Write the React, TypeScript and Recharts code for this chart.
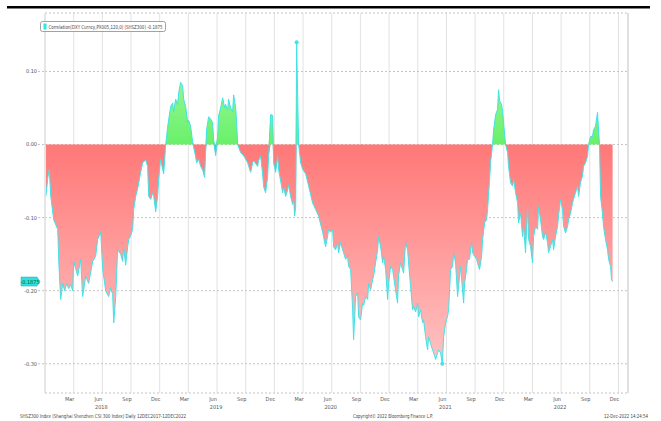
import React from "react";
import {
  ComposedChart,
  Area,
  Line,
  XAxis,
  YAxis,
  CartesianGrid,
  ReferenceDot,
  ReferenceLine,
} from "recharts";

const SERIES_NAME = "Correlation(DXY Curncy,PX005,120,0) (SHSZ300)";
const FOOT_LEFT = "SHSZ300 Index (Shanghai Shenzhen CSI 300 Index)  Daily 12DEC2017-12DEC2022";
const FOOT_MID = "Copyright\u00a9 2022 Bloomberg Finance L.P.";
const FOOT_RIGHT = "12-Dec-2022 14:24:54";

const MONTH_NAMES = ["Jan", "Feb", "Mar", "Apr", "May", "Jun", "Jul", "Aug", "Sep", "Oct", "Nov", "Dec"];

// x axis unit: months elapsed since 1 Dec 2017
const X_DOMAIN = [0, 61];
const X_TICKS = [3, 6, 9, 12, 15, 18, 21, 24, 27, 30, 33, 36, 39, 42, 45, 48, 51, 54, 57, 60];
const Y_DOMAIN = [-0.34, 0.18];
const Y_TICKS = [0.1, 0, -0.1, -0.2, -0.3];

const MONTHS_ELAPSED = [
  0.1, 0.3, 0.45, 0.6, 0.91, 1.33, 1.44, 1.64, 1.85, 2.06,
  2.27, 2.48, 2.69, 2.9, 3.0, 3.21, 3.42, 3.73, 3.94, 4.26,
  4.57, 4.78, 4.99, 5.3, 5.51, 5.83, 6.04, 6.35, 6.66, 6.87,
  7.08, 7.19, 7.4, 7.6, 7.92, 8.13, 8.23, 8.44, 8.65, 8.76,
  8.96, 9.17, 9.28, 9.49, 9.7, 10.01, 10.22, 10.53, 10.74, 10.85,
  11.06, 11.27, 11.37, 11.58, 11.79, 11.89, 12.1, 12.31, 12.42, 12.63,
  12.84, 13.15, 13.36, 13.46, 13.67, 13.88, 13.99, 14.19, 14.4, 14.51,
  14.72, 14.93, 15.03, 15.24, 15.45, 15.66, 15.87, 16.08, 16.29, 16.5,
  16.7, 16.81, 16.91, 17.12, 17.33, 17.54, 17.65, 17.85, 18.06, 18.17,
  18.38, 18.59, 18.8, 18.9, 19.11, 19.21, 19.42, 19.63, 19.74, 19.95,
  20.05, 20.16, 20.47, 20.78, 21.2, 21.52, 21.73, 21.83, 22.25, 22.35,
  22.56, 22.77, 22.88, 23.08, 23.29, 23.4, 23.61, 23.82, 23.92, 24.13,
  24.34, 24.45, 24.66, 24.87, 24.97, 25.18, 25.39, 25.49, 25.7, 25.91,
  26.02, 26.12, 26.23, 26.33, 26.43, 26.54, 26.75, 26.96, 27.27, 27.59,
  28.0, 28.32, 28.63, 29.05, 29.36, 29.57, 29.68, 29.88, 30.09, 30.2,
  30.41, 30.62, 30.72, 30.93, 31.14, 31.24, 31.45, 31.66, 31.77, 31.98,
  32.19, 32.29, 32.5, 32.71, 32.82, 33.02, 33.23, 33.34, 33.55, 33.76,
  33.86, 34.07, 34.28, 34.38, 34.59, 34.8, 34.91, 35.12, 35.33, 35.43,
  35.64, 35.85, 35.95, 36.16, 36.37, 36.47, 36.68, 36.89, 36.99, 37.2,
  37.41, 37.52, 37.73, 37.94, 38.04, 38.25, 38.46, 38.57, 38.78, 38.99,
  39.09, 39.3, 39.51, 39.61, 39.82, 40.03, 40.13, 40.34, 40.55, 40.66,
  40.87, 41.08, 41.18, 41.39, 41.57, 41.71, 41.92, 42.12, 42.23, 42.44,
  42.65, 42.75, 42.96, 43.17, 43.27, 43.48, 43.69, 43.8, 43.9, 44.11,
  44.21, 44.42, 44.63, 44.74, 44.95, 45.16, 45.26, 45.47, 45.68, 45.79,
  46.0, 46.2, 46.31, 46.52, 46.62, 46.83, 46.94, 47.15, 47.35, 47.46,
  47.56, 47.77, 47.88, 47.98, 48.19, 48.4, 48.5, 48.71, 48.92, 49.03,
  49.24, 49.45, 49.55, 49.76, 49.97, 50.07, 50.28, 50.49, 50.6, 50.8,
  51.01, 51.12, 51.33, 51.54, 51.64, 51.85, 52.06, 52.17, 52.38, 52.59,
  52.69, 52.9, 53.11, 53.21, 53.42, 53.63, 53.73, 53.94, 54.15, 54.26,
  54.47, 54.68, 54.78, 54.99, 55.2, 55.3, 55.51, 55.72, 55.83, 56.03,
  56.24, 56.35, 56.56, 56.77, 56.87, 57.08, 57.29, 57.39, 57.6, 57.81,
  57.92, 58.02, 58.13, 58.33, 58.44, 58.65, 58.86, 58.97, 59.18, 59.28,
  59.39,
];

const CORRELATION = [
  -0.07, -0.045, -0.034, -0.07, -0.103, -0.116, -0.16, -0.212, -0.19, -0.2,
  -0.19, -0.197, -0.192, -0.2, -0.16, -0.17, -0.18, -0.157, -0.208, -0.18,
  -0.19, -0.175, -0.16, -0.153, -0.13, -0.12, -0.171, -0.2, -0.208, -0.196,
  -0.205, -0.244, -0.208, -0.144, -0.15, -0.16, -0.14, -0.165, -0.14, -0.13,
  -0.125, -0.116, -0.089, -0.071, -0.06, -0.038, -0.025, -0.021, -0.03, -0.071,
  -0.075, -0.066, -0.07, -0.092, -0.07, -0.048, -0.02, -0.034, -0.04, 0,
  0.025, 0.052, 0.057, 0.045, 0.062, 0.055, 0.071, 0.085, 0.08, 0.062,
  0.052, 0.03, 0.033, 0.025, 0.003, -0.01, -0.025, -0.02, -0.03, -0.035,
  -0.045, -0.01, 0.02, 0.038, 0.035, 0.03, 0.005, -0.015, 0.01, 0.04,
  0.05, 0.064, 0.05, 0.055, 0.047, 0.062, 0.05, 0.045, 0.068, 0.05,
  0.03, 0, -0.011, -0.015, -0.025, -0.038, -0.025, -0.022, -0.03, -0.022,
  -0.016, -0.04, -0.058, -0.066, -0.045, -0.016, 0.041, 0.04, -0.025, -0.038,
  -0.016, -0.035, -0.05, -0.066, -0.058, -0.071, -0.062, -0.055, -0.071, -0.082,
  -0.075, -0.098, -0.085, 0.14, 0.07, 0, -0.025, -0.034, -0.04, -0.057,
  -0.08, -0.089, -0.098, -0.12, -0.14, -0.125, -0.116, -0.12, -0.116, -0.14,
  -0.144, -0.135, -0.148, -0.134, -0.144, -0.148, -0.157, -0.153, -0.167, -0.171,
  -0.226, -0.267, -0.208, -0.203, -0.236, -0.24, -0.217, -0.22, -0.208, -0.212,
  -0.19, -0.199, -0.185, -0.18, -0.162, -0.144, -0.126, -0.14, -0.162, -0.153,
  -0.171, -0.212, -0.19, -0.167, -0.171, -0.18, -0.199, -0.217, -0.18, -0.162,
  -0.171, -0.176, -0.134, -0.144, -0.162, -0.194, -0.226, -0.222, -0.229, -0.217,
  -0.236, -0.226, -0.244, -0.24, -0.263, -0.281, -0.263, -0.272, -0.281, -0.285,
  -0.294, -0.285, -0.281, -0.285, -0.3, -0.263, -0.244, -0.235, -0.226, -0.171,
  -0.167, -0.148, -0.162, -0.208, -0.194, -0.167, -0.199, -0.217, -0.19, -0.171,
  -0.157, -0.157, -0.134, -0.148, -0.153, -0.157, -0.162, -0.171, -0.153, -0.13,
  -0.107, -0.103, -0.089, -0.048, -0.025, 0, 0.02, 0.041, 0.048, 0.075,
  0.06, 0.055, 0.045, 0.03, 0, -0.011, -0.03, -0.052, -0.057, -0.048,
  -0.066, -0.08, -0.107, -0.094, -0.126, -0.112, -0.148, -0.085, -0.13, -0.139,
  -0.162, -0.126, -0.112, -0.116, -0.085, -0.103, -0.126, -0.13, -0.12, -0.135,
  -0.148, -0.139, -0.13, -0.144, -0.126, -0.112, -0.098, -0.075, -0.089, -0.112,
  -0.121, -0.112, -0.103, -0.094, -0.08, -0.075, -0.066, -0.057, -0.071, -0.052,
  -0.043, -0.03, -0.025, -0.016, 0, 0.011, 0.011, 0.02, 0.025, 0.044,
  0.02, 0, -0.071, -0.094, -0.112, -0.13, -0.144, -0.157, -0.167, -0.185,
  -0.1875,
];

const FONT = "'Liberation Sans Narrow', 'DejaVu Sans Condensed', 'Liberation Sans', sans-serif";
const CYAN = "#3fe3e8";

// positive part filled green, negative part filled red, cyan line on top
const data = MONTHS_ELAPSED.map((t, i) => ({
  t,
  v: CORRELATION[i],
  pos: Math.max(CORRELATION[i], 0),
  neg: Math.min(CORRELATION[i], 0),
}));

const maxIdx = CORRELATION.indexOf(Math.max(...CORRELATION));
const minIdx = CORRELATION.indexOf(Math.min(...CORRELATION));
const lastValue = CORRELATION[CORRELATION.length - 1];

function MonthTick({ x, y, payload }: any) {
  const idx = 11 + payload.value;
  const month = idx % 12;
  const year = 2017 + Math.floor(idx / 12);
  return (
    <g fontFamily={FONT} fontSize={5.5} fill="#555">
      <text x={x - 4} y={y + 8} textAnchor="middle">
        {MONTH_NAMES[month]}
      </text>
      {month === 5 && (
        <text x={x - 1} y={y + 16} textAnchor="middle">
          {year}
        </text>
      )}
    </g>
  );
}

function LastTag({ cx, cy }: any) {
  const pts = [
    [cx - 24, cy - 4.5],
    [cx - 8, cy - 4.5],
    [cx - 5, cy],
    [cx - 8, cy + 4.5],
    [cx - 24, cy + 4.5],
  ]
    .map((p) => p.join(","))
    .join(" ");
  return (
    <g>
      <polygon points={pts} fill="#2fe0e0" stroke="#1aa8a8" strokeWidth={0.5} />
      <text
        x={cx - 15}
        y={cy + 2}
        textAnchor="middle"
        fontFamily={FONT}
        fontSize={5.5}
        fill="#063"
      >
        {lastValue.toFixed(4)}
      </text>
    </g>
  );
}

export default function App() {
  return (
    <div
      style={{
        position: "absolute",
        left: 0,
        top: 0,
        width: 661,
        height: 421,
        background: "#fff",
      }}
    >
      <ComposedChart
        width={661}
        height={421}
        data={data}
        margin={{ top: 13, right: 33, bottom: 0, left: 0 }}
      >
        <defs>
          <linearGradient id="posFill" x1="0" y1="0" x2="0" y2="1">
            <stop offset={0} stopColor="#abfcab" />
            <stop offset={1} stopColor="#6af06a" />
          </linearGradient>
          <linearGradient id="negFill" x1="0" y1="0" x2="0" y2="1">
            <stop offset={0} stopColor="#ff7878" />
            <stop offset={1} stopColor="#ffc2c2" />
          </linearGradient>
        </defs>
        <CartesianGrid horizontal={false} vertical stroke="#e2e2e2" />
        <CartesianGrid
          horizontal
          vertical={false}
          stroke="#c4c4c4"
          strokeDasharray="2 2"
        />
        <XAxis
          type="number"
          dataKey="t"
          domain={X_DOMAIN}
          ticks={X_TICKS}
          allowDataOverflow
          axisLine={false}
          tickLine={false}
          tickSize={0}
          tickMargin={0}
          height={28}
          tick={<MonthTick />}
          interval={0}
        />
        <YAxis
          type="number"
          domain={Y_DOMAIN}
          ticks={Y_TICKS}
          allowDataOverflow
          width={45}
          tickSize={7}
          tickMargin={1}
          tickFormatter={(v: number) => v.toFixed(2)}
          tick={{ fontSize: 5.5, fill: "#555", fontFamily: FONT }}
          tickLine={{ stroke: "#c4c4c4", strokeDasharray: "2 2" }}
          axisLine={{ stroke: "#dcdcdc" }}
          interval={0}
        />
        <ReferenceLine x={X_DOMAIN[1]} stroke="#cfcfcf" />
        <Area
          type="linear"
          dataKey="pos"
          baseValue={0}
          stroke="none"
          fill="url(#posFill)"
          fillOpacity={1}
          dot={false}
          activeDot={false}
          isAnimationActive={false}
        />
        <Area
          type="linear"
          dataKey="neg"
          baseValue={0}
          stroke="none"
          fill="url(#negFill)"
          fillOpacity={1}
          dot={false}
          activeDot={false}
          isAnimationActive={false}
        />
        <Line
          type="linear"
          dataKey="v"
          stroke={CYAN}
          strokeWidth={1}
          dot={false}
          activeDot={false}
          isAnimationActive={false}
        />
        <ReferenceDot
          x={MONTHS_ELAPSED[maxIdx]}
          y={CORRELATION[maxIdx]}
          r={2}
          fill={CYAN}
          stroke="none"
        />
        <ReferenceDot
          x={MONTHS_ELAPSED[minIdx]}
          y={CORRELATION[minIdx]}
          r={2}
          fill={CYAN}
          stroke="none"
        />
        <ReferenceDot x={X_DOMAIN[0]} y={lastValue} shape={<LastTag />} />
      </ComposedChart>

      <svg
        width={661}
        height={421}
        style={{ position: "absolute", left: 0, top: 0, pointerEvents: "none" }}
      >
        <rect x={7} y={6} width={643} height={2.5} fill="#000" />
        <rect
          x={40.5}
          y={21.5}
          width={125}
          height={10}
          rx={2}
          fill="#fff"
          stroke="#8a8a8a"
          strokeWidth={0.8}
        />
        <rect x={43.5} y={23.5} width={3} height={6} fill="#2fe6e6" />
        <text
          x={48.5}
          y={28.8}
          fontFamily={FONT}
          fontSize={5.5}
          fill="#444"
          textLength={114}
          lengthAdjust="spacingAndGlyphs"
        >
          {`${SERIES_NAME} ${lastValue.toFixed(4)}`}
        </text>
        <g fontFamily={FONT} fontSize={5.5} fill="#444">
          <text x={20} y={418} textLength={166} lengthAdjust="spacingAndGlyphs">
            {FOOT_LEFT}
          </text>
          <text x={353} y={418} textLength={80} lengthAdjust="spacingAndGlyphs">
            {FOOT_MID}
          </text>
          <text x={604} y={418} textLength={44} lengthAdjust="spacingAndGlyphs">
            {FOOT_RIGHT}
          </text>
        </g>
      </svg>
    </div>
  );
}
